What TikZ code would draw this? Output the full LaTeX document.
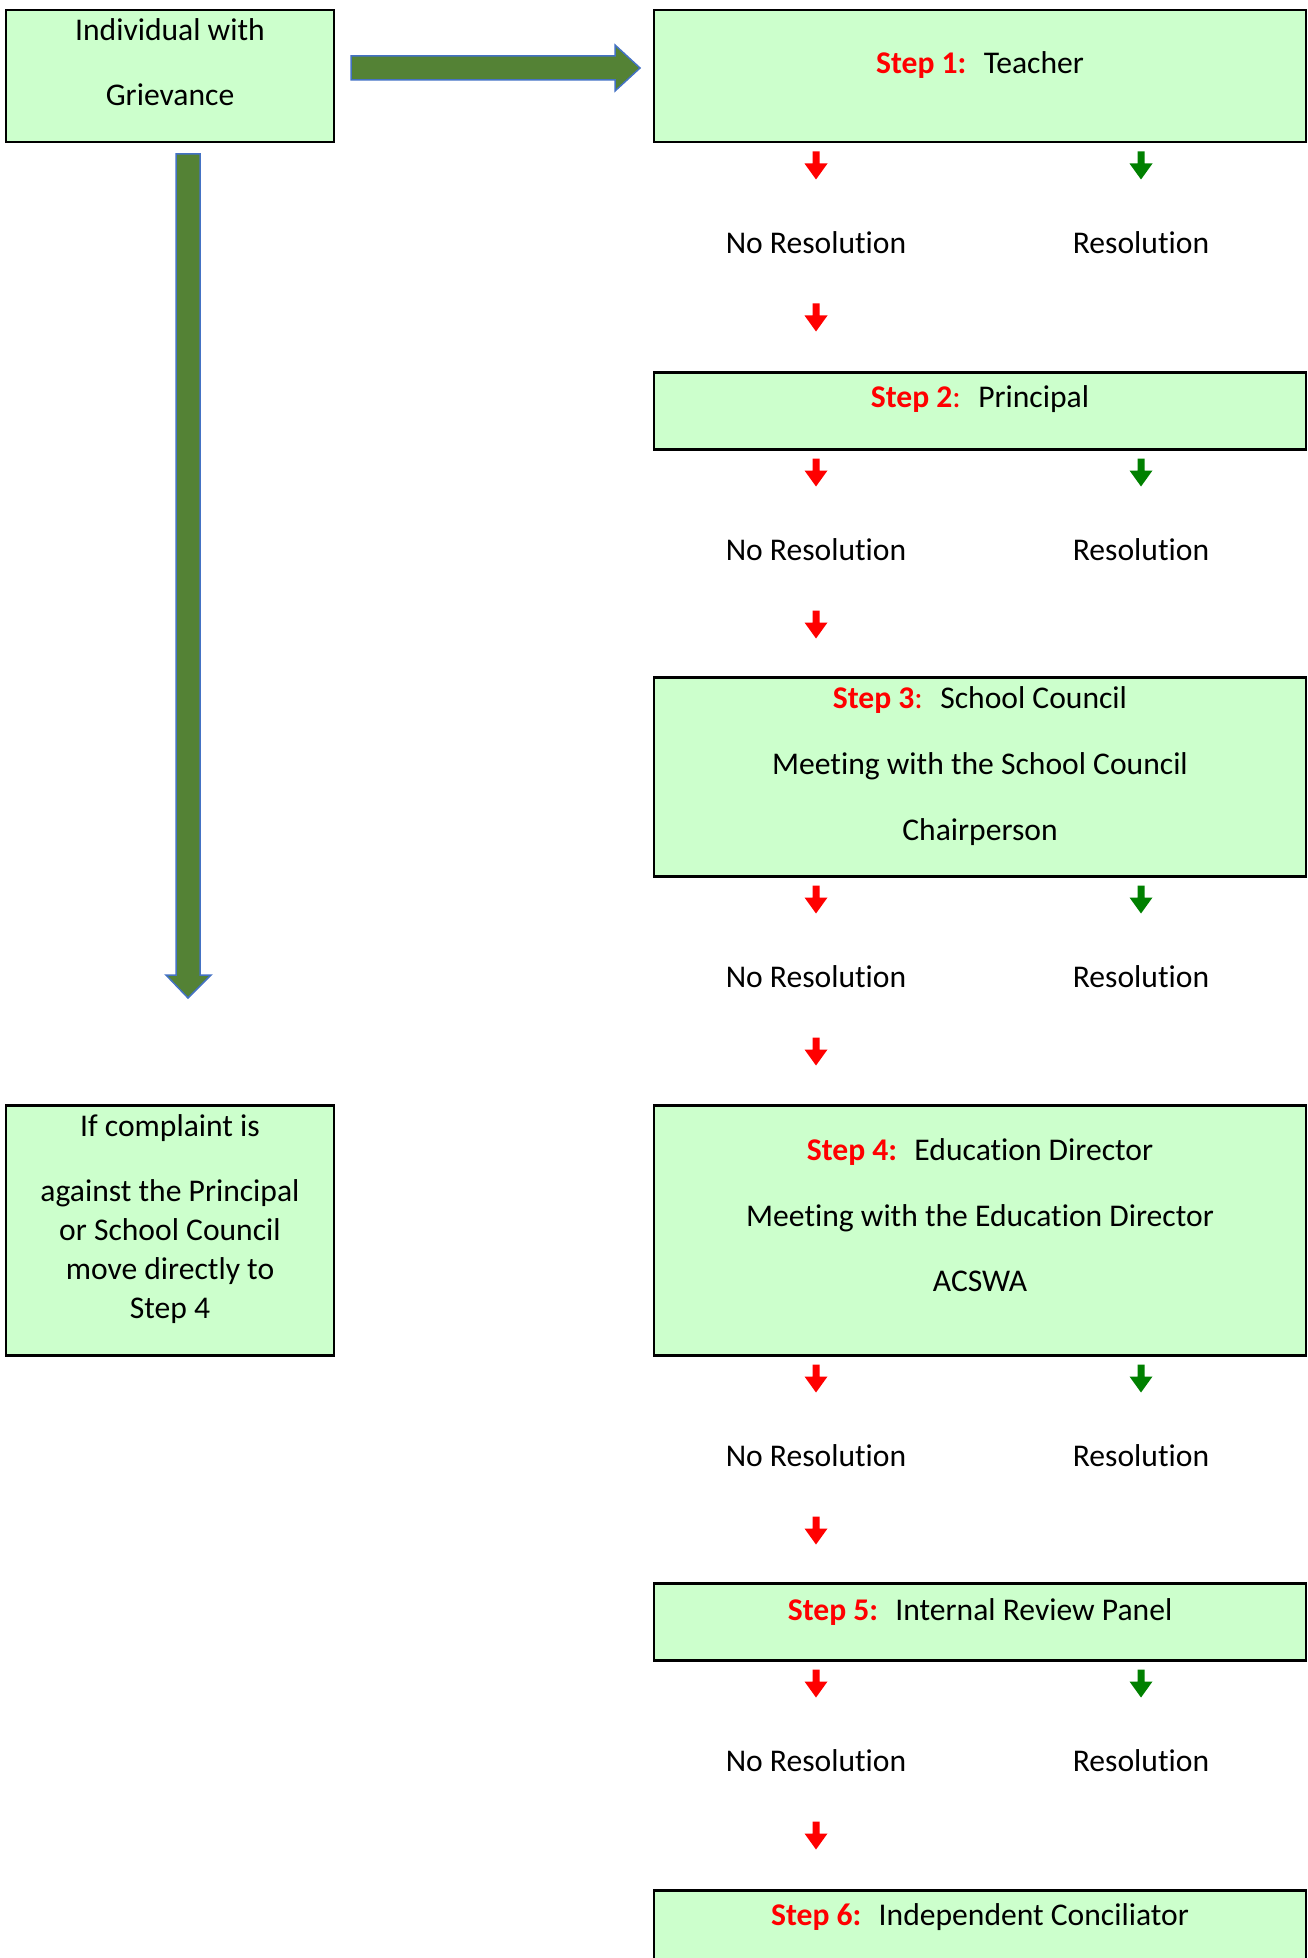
\documentclass[tikz,border=0pt]{standalone}
\usepackage{fontspec}
\setmainfont{Carlito}[Ligatures=NoCommon]
\usetikzlibrary{positioning}

\definecolor{boxfill}{HTML}{CCFFCC}
\definecolor{bigarrowfill}{HTML}{548235}
\definecolor{bigarrowline}{HTML}{4472C4}
\definecolor{stepred}{HTML}{FF0000}
\definecolor{resgreen}{HTML}{008000}

\newcommand{\stepno}[1]{\textcolor{stepred}{\textbf{Step #1:}}\hspace{0.55em}}

\tikzset{
  greenbox/.style={draw, line width=2.5pt, fill=boxfill, inner sep=0pt, anchor=north},
  boxtext/.style={anchor=base, align=center, inner sep=0pt},
  bigarrow/.style={fill=bigarrowfill, draw=bigarrowline, line width=1.5pt},
  downarr/.pic={\fill (-3.5,0) -- (3.5,0) -- (3.5,12) -- (11.5,12) -- (0,28) -- (-11.5,12) -- (-3.5,12) -- cycle;}
}

\begin{document}
\begin{tikzpicture}[x=1pt, y=-1pt, font=\fontsize{31.6}{39}\selectfont]
  \clip (0,0) rectangle (1308,1958);

  % left column
  \node[greenbox, minimum width=328pt, minimum height=132pt] (grv) at (170,9) {};
  \node[boxtext] (grvt) at (170,106) {Individual with\\[26pt] Grievance};
  \node[greenbox, minimum width=328pt, minimum height=250pt] (cmp) at (170,1104) {};
  \node[boxtext] (cmpt) at (170,1318) {If complaint is\\[26pt] against the Principal\\ or School Council\\ move directly to\\ Step 4};

  % big arrows
  \draw[bigarrow] (351,56) -- (615,56) -- (615,45) -- (640,68) -- (615,91) -- (615,80) -- (351,80) -- cycle;
  \draw[bigarrow] (176,154) -- (200,154) -- (200,975) -- (211,975) -- (188,998) -- (166,975) -- (176,975) -- cycle;

  % steps
  \node[greenbox, minimum width=652pt, minimum height=132pt] (s1) at (980,9) {};
  \node[greenbox, minimum width=652pt, minimum height=77pt] (s2) at (980,371) {};
  \node[greenbox, minimum width=652pt, minimum height=199pt] (s3) at (980,676) {};
  \node[greenbox, minimum width=652pt, minimum height=250pt] (s4) at (980,1104) {};
  \node[greenbox, minimum width=652pt, minimum height=77pt] (s5) at (980,1582) {};
  \node[greenbox, minimum width=652pt, minimum height=120pt] (s6) at (980,1889) {};

  \node[boxtext] (s1t) at (980,74) {\stepno{1}Teacher};
  \node[boxtext] (s2t) at (980,407) {\textcolor{stepred}{\textbf{Step 2}:}\hspace{0.55em}Principal};
  \node[boxtext] (s3t) at (980,840) {\textcolor{stepred}{\textbf{Step 3}:}\hspace{0.55em}School Council\\[27pt] Meeting with the School Council\\[27pt] Chairperson};
  \node[boxtext] (s4t) at (980,1291) {\stepno{4}Education Director\\[27pt] Meeting with the Education Director\\[26pt] ACSWA};
  \node[boxtext] (s5t) at (980,1620) {\stepno{5}Internal Review Panel};
  \node[boxtext] (s6t) at (980,1925) {\stepno{6}Independent Conciliator};

  % outcome rows under each step
  \foreach \b in {s1,s2,s3,s4,s5}{
    \pic[stepred] at ([shift={(-164,8)}]\b.south) {downarr};
    \pic[resgreen] at ([shift={(161,8)}]\b.south) {downarr};
    \node[boxtext] (\b-no) at ([shift={(-164,110)}]\b.south) {No Resolution};
    \node[boxtext] (\b-yes) at ([shift={(161,110)}]\b.south) {Resolution};
    \pic[stepred] at ([shift={(-164,160)}]\b.south) {downarr};
  }
\end{tikzpicture}
\end{document}
